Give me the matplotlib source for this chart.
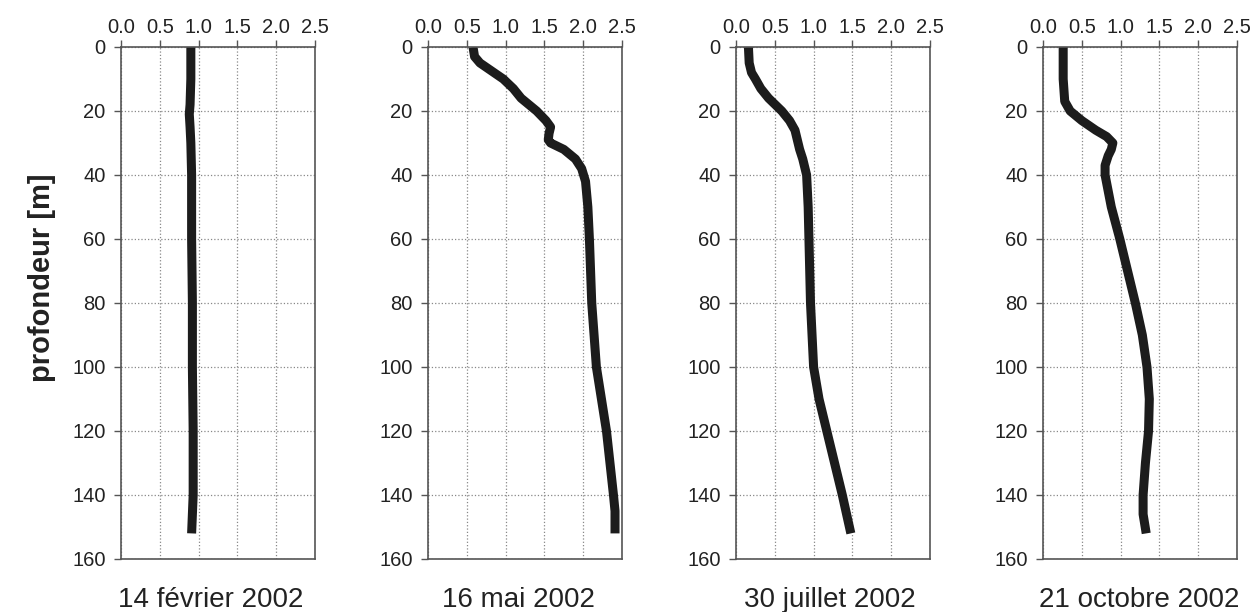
import numpy as np
import matplotlib.pyplot as plt

plt.rcParams['font.family'] = ['Liberation Sans', 'DejaVu Sans']

# profils (profondeur en m, valeur)
titres = ["14 février 2002", "16 mai 2002", "30 juillet 2002", "21 octobre 2002"]

prof_fev = [0, 10, 18, 21, 25, 30, 40, 60, 80, 100, 120, 140, 152]
val_fev = [0.90, 0.90, 0.89, 0.88, 0.89, 0.90, 0.91, 0.91, 0.92, 0.92, 0.93, 0.93, 0.91]

prof_mai = [0, 3, 5, 8, 10, 13, 16, 20, 23, 25, 27, 29, 30, 32, 35, 38, 42, 50, 60, 80, 100, 120, 140, 145, 152]
val_mai = [0.58, 0.6, 0.67, 0.85, 0.97, 1.1, 1.2, 1.4, 1.52, 1.58, 1.56, 1.55, 1.58, 1.75, 1.9, 1.98, 2.03, 2.06, 2.08, 2.11, 2.17, 2.3, 2.39, 2.41, 2.41]

prof_jui = [0, 5, 8, 10, 13, 16, 20, 23, 26, 29, 32, 35, 40, 50, 60, 80, 100, 110, 120, 130, 140, 152]
val_jui = [0.16, 0.17, 0.2, 0.25, 0.32, 0.42, 0.59, 0.69, 0.76, 0.79, 0.82, 0.86, 0.91, 0.93, 0.94, 0.96, 1.0, 1.07, 1.17, 1.27, 1.37, 1.48]

prof_oct = [0, 10, 17, 20, 23, 26, 28, 30, 32, 34, 37, 40, 50, 60, 70, 80, 90, 100, 110, 120, 130, 140, 146, 152]
val_oct = [0.26, 0.26, 0.28, 0.35, 0.5, 0.68, 0.82, 0.9, 0.88, 0.84, 0.8, 0.8, 0.88, 0.99, 1.09, 1.19, 1.28, 1.34, 1.37, 1.36, 1.32, 1.29, 1.29, 1.33]

profils = [(prof_fev, val_fev), (prof_mai, val_mai), (prof_jui, val_jui), (prof_oct, val_oct)]
xticks = [0.0, 0.5, 1.0, 1.5, 2.0, 2.5]
yticks = [0, 20, 40, 60, 80, 100, 120, 140, 160]

W, H = 1253, 612
fig = plt.figure(figsize=(W/100, H/100), dpi=100)
lefts = [121, 428, 736, 1043]
decal = [-7, -7, -3, -1]
for i, (p, v) in enumerate(profils):
    ax = fig.add_axes([lefts[i]/W, (H-559)/H, 194/W, 512/H])
    ax.plot(v, p, color="#1c1c1c", lw=6.5, solid_capstyle="butt", solid_joinstyle="round")
    ax.set_xlim(0, 2.5)
    ax.set_ylim(160, 0)
    ax.set_xticks(xticks)
    ax.set_xticklabels(["%.1f" % x for x in xticks])
    ax.set_yticks(yticks)
    ax.xaxis.tick_top()
    ax.tick_params(axis="both", direction="out", length=5, width=1, color="#555555",
                   labelsize=14.5, labelcolor="#222222")
    ax.tick_params(axis="x", pad=2)
    ax.tick_params(axis="y", pad=6)
    ax.grid(True, linestyle=":", color="#888888", linewidth=0.9)
    for s in ax.spines.values():
        s.set_color("#555555")
        s.set_linewidth(1.2)
    fig.text((lefts[i]+97+decal[i])/W, 1-600/H, titres[i], ha="center", va="center", fontsize=20, color="#222222")

fig.text(42/W, 1-278/H, "profondeur [m]", rotation=90, ha="center", va="center",
         fontsize=21, fontweight="bold", color="#222222")

plt.savefig("out.png", dpi=100)
